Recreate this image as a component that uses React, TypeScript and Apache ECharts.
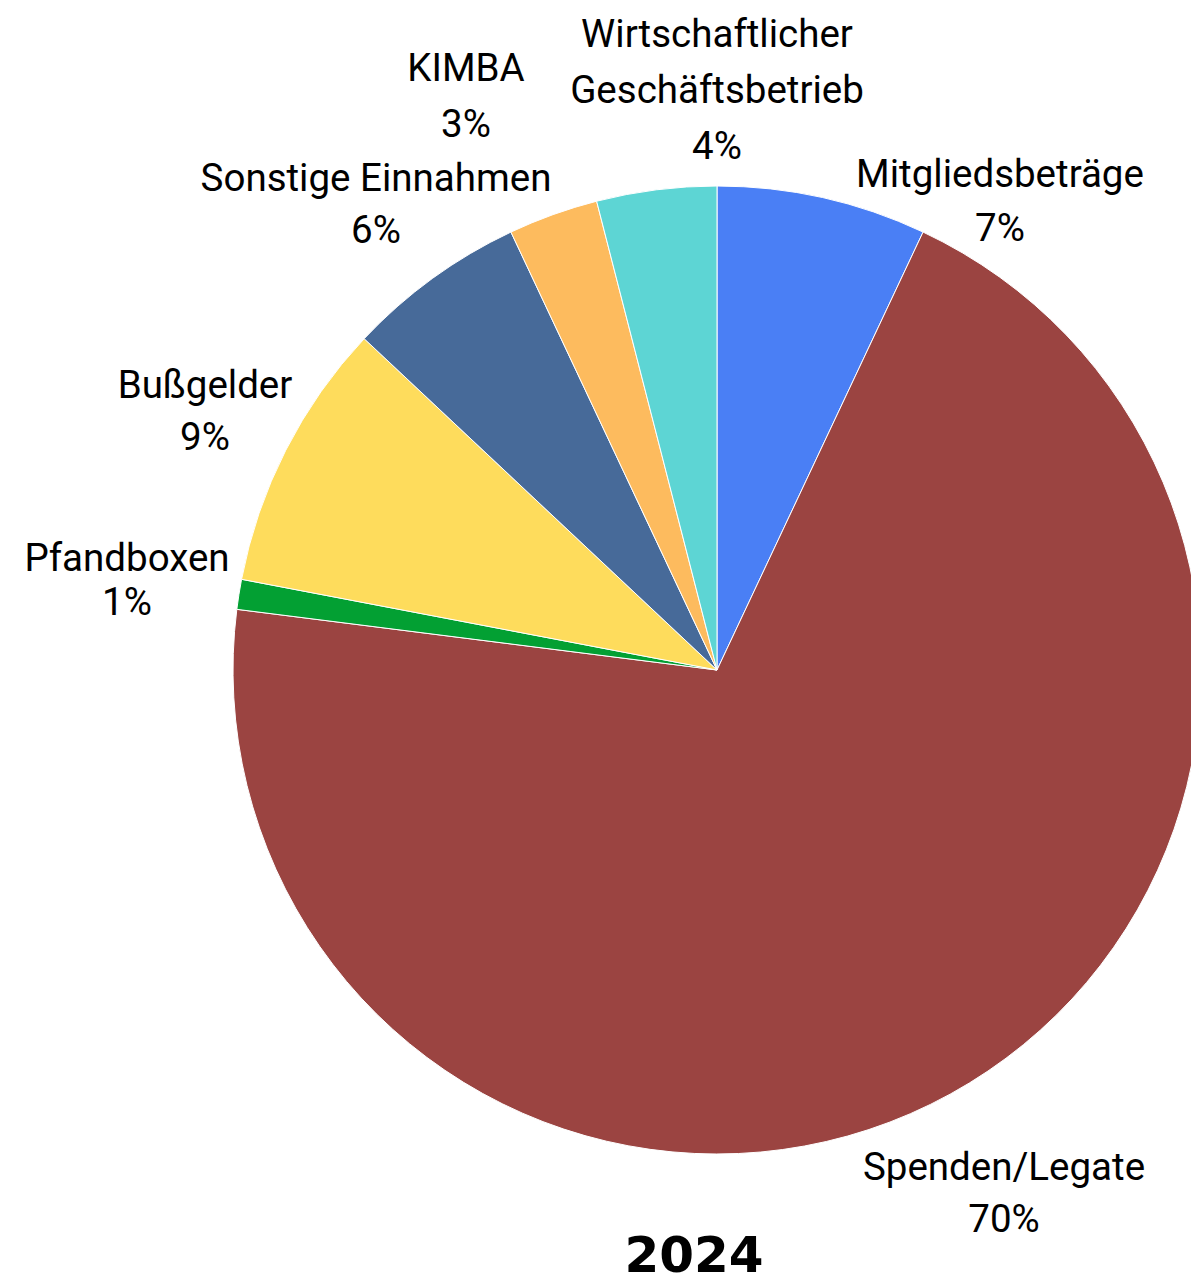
import React, { useEffect, useRef } from "react";
import * as echarts from "echarts";

const categories = [
  "Mitgliedsbeträge",
  "Spenden/Legate",
  "Pfandboxen",
  "Bußgelder",
  "Sonstige Einnahmen",
  "KIMBA",
  "Wirtschaftlicher\nGeschäftsbetrieb",
];
const values = [7, 70, 1, 9, 6, 3, 4];
const colors = ["#4a7ff5", "#9b4441", "#03a033", "#fedc5c", "#476a99", "#fdbb5e", "#5dd5d4"];
const titleText = "2024";

// label block centres (layout only)
const labelPos: [number, number][] = [
  [1000, 200],
  [1004, 1192],
  [127, 579],
  [205, 410],
  [376, 203],
  [466, 95],
  [717, 89],
];
const labelLineHeights = [54, 52, 44, 52, 52, 56, 56];

export default function App() {
  const ref = useRef<HTMLDivElement>(null);
  useEffect(() => {
    document.body.style.margin = "0";
    const chart = echarts.init(ref.current!, undefined, { renderer: "svg" });
    chart.setOption({
      animation: false,
      backgroundColor: "#ffffff",
      graphic: [
        {
          type: "text",
          x: 694,
          y: 1255,
          style: {
            text: titleText,
            fontFamily: "DejaVu Sans",
            fontWeight: "bold",
            fontSize: 50,
            fill: "#000",
            textAlign: "center",
            textVerticalAlign: "middle",
          },
        },
      ],
      series: [
        {
          type: "pie",
          center: [717, 670],
          radius: 484,
          startAngle: 90,
          clockwise: true,
          avoidLabelOverlap: false,
          itemStyle: { borderColor: "#ffffff", borderWidth: 1 },
          labelLine: { show: false },
          label: {
            show: true,
            position: "outside",
            fontFamily: "Roboto",
            fontSize: 38.5,
            color: "#000",
            align: "center",
            formatter: (p: any) => `${p.name}\n${Math.round(p.percent)}%`,
          },
          labelLayout: (p: any) => ({
            x: labelPos[p.dataIndex][0],
            y: labelPos[p.dataIndex][1],
            align: "center",
            verticalAlign: "middle",
          }),
          data: categories.map((name, i) => ({
            name,
            value: values[i],
            itemStyle: { color: colors[i] },
            label: { lineHeight: labelLineHeights[i] },
          })),
        },
      ],
    });
    return () => chart.dispose();
  }, []);
  return <div ref={ref} style={{ width: 1191, height: 1283 }} />;
}
